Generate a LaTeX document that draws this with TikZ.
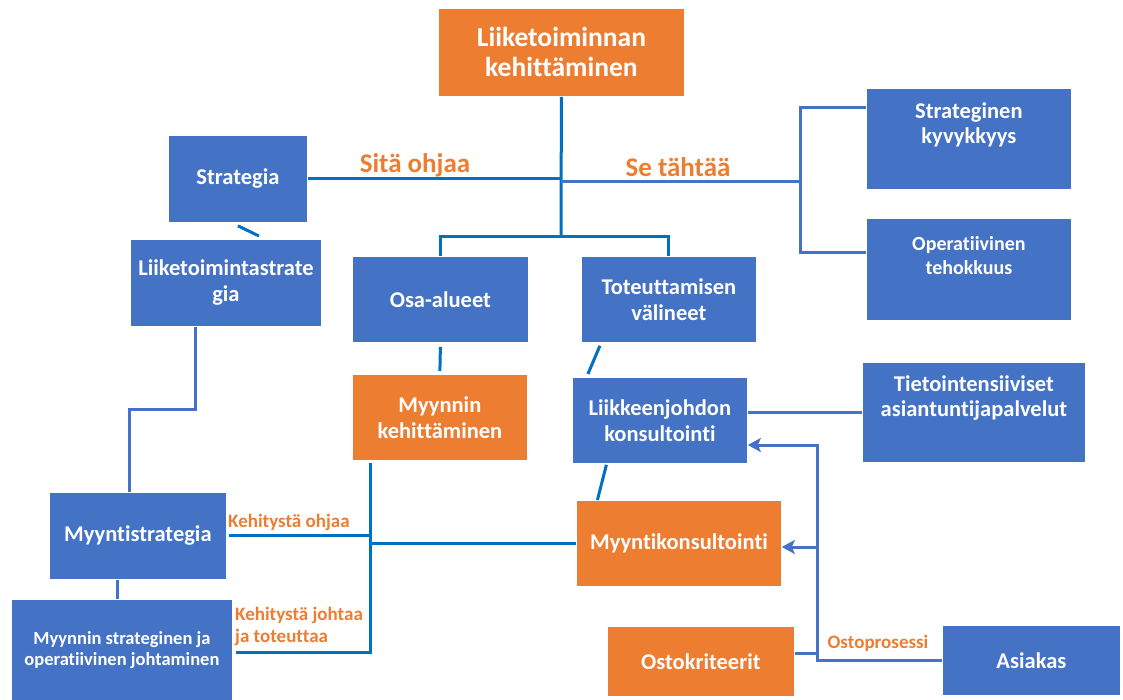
\documentclass[tikz,border=0pt]{standalone}
\usepackage{fontspec}
\setmainfont{Carlito}[Ligatures=NoCommon]
\usetikzlibrary{arrows.meta,calc}
\definecolor{bblue}{HTML}{4472C4}
\definecolor{borange}{HTML}{ED7D31}
\definecolor{lblue}{HTML}{0070C0}
\begin{document}
\begin{tikzpicture}[x=1pt,y=-1pt,
 box/.style={draw=white, line width=0.8pt, inner sep=0pt, anchor=north west, text=white, align=center, font=\bfseries\fontsize{22.5}{26}\selectfont},
 bluebox/.style={box, fill=bblue},
 orangebox/.style={box, fill=borange},
 btext/.style={text=white, align=center, inner sep=0pt, font=\bfseries\fontsize{22.5}{25}\selectfont},
 conn/.style={line width=3pt, lblue},
 conn2/.style={line width=3pt, bblue},
 arr/.style={-{Stealth[length=13pt,width=14pt,inset=3pt]}},
 lbl/.style={text=borange, inner sep=0pt, align=left, font=\bfseries\fontsize{19}{22}\selectfont},
 biglbl/.style={text=borange, inner sep=0pt, font=\bfseries\fontsize{27}{30}\selectfont},
]
\useasboundingbox (0,0) rectangle (1123,700);
\fill[white] (0,0) rectangle (1123,700);

% boxes
\node[orangebox, minimum width=246pt, minimum height=88pt, font=\bfseries\fontsize{27.5}{30}\selectfont] (top) at (438,8) {Liiketoiminnan\\kehittäminen};
\node[bluebox, minimum width=139pt, minimum height=87pt] (strat) at (168,135) {Strategia};
\node[bluebox, minimum width=191pt, minimum height=87pt] (lts) at (130,239) {Liiketoimintastrate\\gia};
\node[bluebox, minimum width=176pt, minimum height=86pt] (osa) at (352,256) {Osa-alueet};
\node[bluebox, minimum width=175pt, minimum height=86pt] (tot) at (581,256) {Toteuttamisen\\välineet};
\node[bluebox, minimum width=205pt, minimum height=101pt] (sk) at (866,88) {};
\node[btext] (skt) at ($(sk.north)+(0,37)$) {Strateginen\\kyvykkyys};
\node[bluebox, minimum width=205pt, minimum height=102pt] (ot) at (866,218) {};
\node[btext, font=\bfseries\fontsize{20}{24}\selectfont] (ott) at ($(ot.north)+(0,38)$) {Operatiivinen\\tehokkuus};
\node[orangebox, minimum width=175pt, minimum height=86pt] (mk) at (352,374) {Myynnin\\kehittäminen};
\node[bluebox, minimum width=177pt, minimum height=87pt] (ms) at (49,492) {Myyntistrategia};
\node[bluebox, minimum width=221pt, minimum height=101pt, font=\bfseries\fontsize{18.5}{21}\selectfont] (msj) at (11,599) {Myynnin strateginen ja\\operatiivinen johtaminen};
\node[bluebox, minimum width=175pt, minimum height=86pt] (lk) at (572,377) {Liikkeenjohdon\\konsultointi};
\node[bluebox, minimum width=223pt, minimum height=100pt] (tia) at (862,362) {};
\node[btext] (tiat) at ($(tia.north)+(0,36)$) {Tietointensiiviset\\asiantuntijapalvelut};
\node[orangebox, minimum width=205pt, minimum height=86pt] (myk) at (576,500) {Myyntikonsultointi};
\node[orangebox, minimum width=187pt, minimum height=70pt] (ok) at (607,626) {Ostokriteerit};
\node[bluebox, minimum width=178pt, minimum height=70pt] (as) at (942,625) {Asiakas};

% top tree
\coordinate (j2) at (561,237);
\draw[conn] (top.south) -- (j2);
\draw[conn] (strat.east) -- (strat.east -| top.south);
\coordinate (br) at (800,182);
\draw[conn2] (br -| top.south) -- (br);
\draw[conn2] ($(sk.north west)+(0,20)$) -| (br) |- ($(ot.north west)+(0,35)$);
\draw[conn] (osa.north) -- (osa.north |- j2) -- (tot.north |- j2) -- (tot.north);
\node[biglbl] (l1) at (415,165) {Sitä ohjaa};
\node[biglbl] (l2) at (678,167) {Se tähtää};

% left chain
\draw[conn] ($(strat.south)+(0,3)$) -- ($(lts.north)+(33,-3)$);
\draw[conn2] ($(lts.south)+(-30,0)$) |- ($(ms.north)+(-8,-83)$) -- ($(ms.north)+(-8,0)$);
\coordinate (msb) at ($(ms.south)+(-20,0)$);
\draw[conn2] (msb) -- (msb |- msj.north);

% middle
\draw[conn] ($(osa.south)+(0,4)$) -- ($(mk.north)+(0,-3)$);
\coordinate (sp) at (370,463);
\coordinate (spb) at (370,652);
\draw[conn] (sp) -- (spb) -- ($(spb -| msj.east)+(3,0)$);
\draw[conn] ($(ms.east)+(2,0)$) -- (ms.east -| sp);
\draw[conn] (myk.west) -- (myk.west -| sp);
\node[lbl, anchor=west] (l3) at (228,522) {Kehitystä ohjaa};
\node[lbl, anchor=west] (l4) at (235,626) {Kehitystä johtaa\\ja toteuttaa};

% right side
\draw[conn] ($(tot.south)+(-69,3)$) -- ($(lk.north)+(-72,-3)$);
\draw[conn] ($(lk.south)+(-53.5,1)$) -- ($(myk.north)+(-81.5,0)$);
\draw[conn2] (tia.west) -- (tia.west -| lk.east);
\coordinate (vt) at (817,445);
\coordinate (vm) at (817,547);
\coordinate (vo) at (817,653);
\draw[conn2, arr] (as.west) -| (vt) -- (vt -| lk.east);
\draw[conn2, arr] (vm) -- (vm -| myk.east);
\draw[conn2] (vo -| ok.east) -- (vo);
\node[lbl] (l5) at (878,643) {Ostoprosessi};
\end{tikzpicture}
\end{document}
